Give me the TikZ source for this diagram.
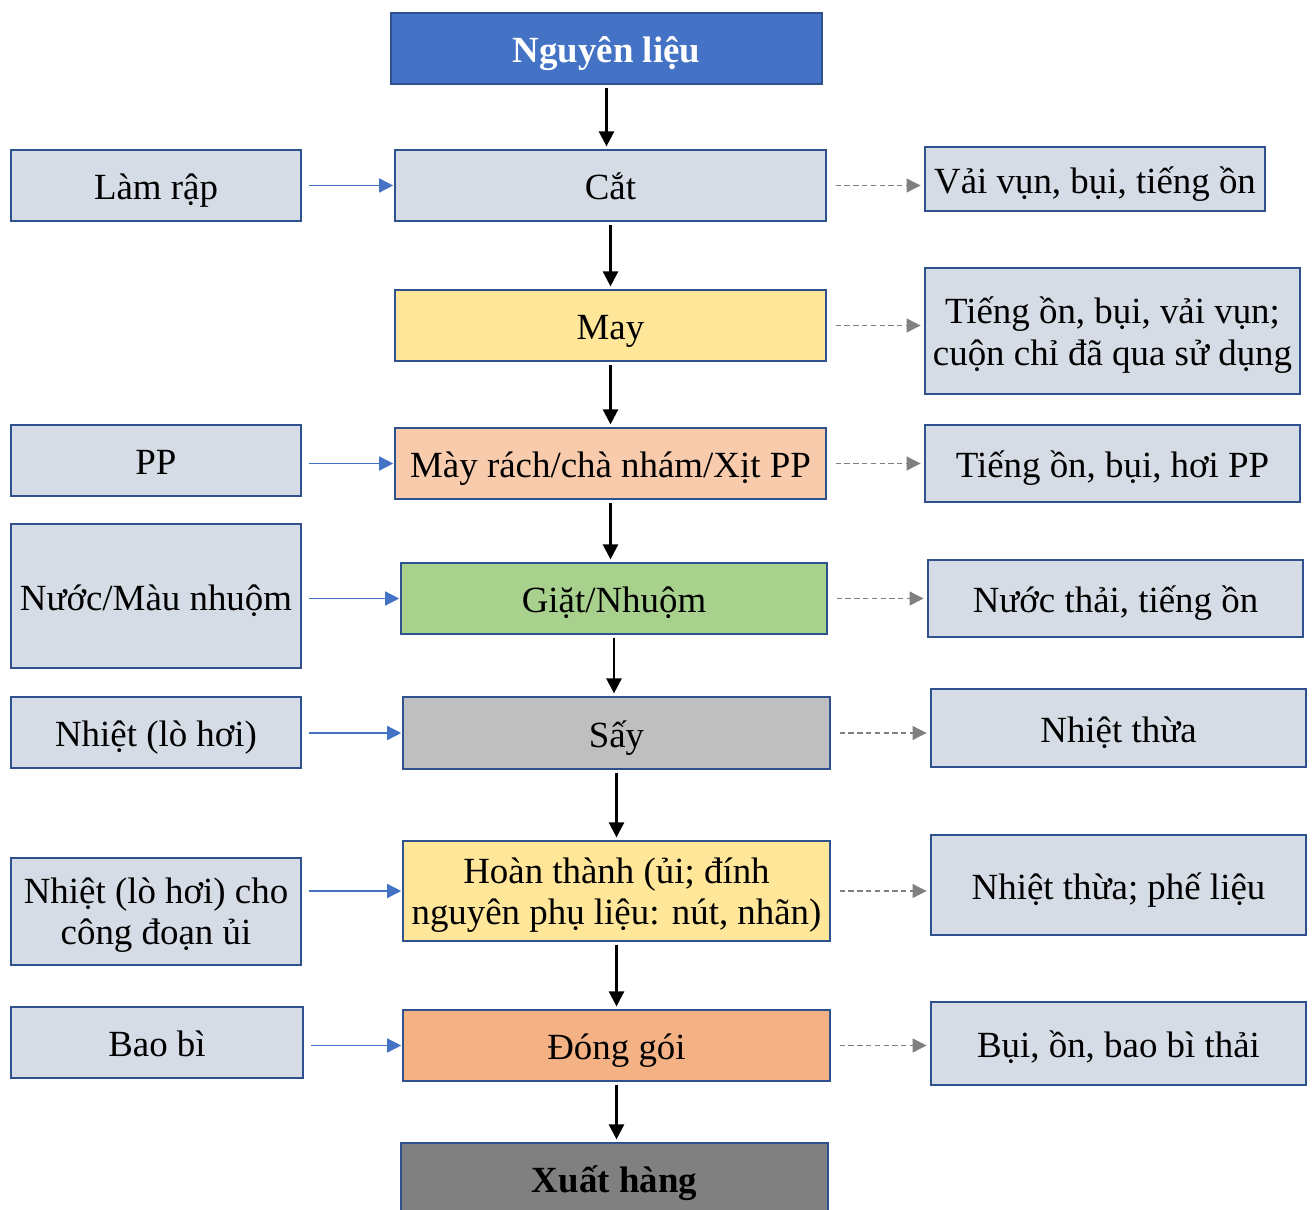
\documentclass[tikz,border=0pt]{standalone}
\usepackage{fontspec}
\setmainfont{Liberation Serif}
\usetikzlibrary{arrows.meta}
\definecolor{boxline}{HTML}{2F528F}
\definecolor{grayblue}{HTML}{D6DCE5}
\definecolor{arrowblue}{HTML}{4472C4}
\definecolor{sewyellow}{HTML}{FFE699}
\definecolor{sandpeach}{HTML}{F8CBAD}
\definecolor{dyegreen}{HTML}{A9D18E}
\definecolor{drygray}{HTML}{BFBFBF}
\definecolor{packorange}{HTML}{F4B183}
\definecolor{shipgray}{HTML}{808080}
\begin{document}
\begin{tikzpicture}[x=0.02cm, y=-0.02cm,
    box/.style={draw=boxline, line width=1.1pt, inner sep=2pt, align=center,
      font=\fontsize{21}{23.5}\selectfont, fill=grayblue},
    oneline/.style={text height=21pt, text depth=4.6pt},
    twoline/.style={text depth=-0.5pt},
    flow/.style={-{Triangle[length=8.5pt,width=8.5pt]}, line width=1.4pt, shorten <=2pt, shorten >=1.5pt},
    input/.style={-{Triangle[length=8pt,width=8pt]}, arrowblue, line width=0.85pt, shorten <=4pt, shorten >=0.5pt},
    waste/.style={-{Triangle[length=8pt,width=8pt]}, gray, line width=0.6pt, dash pattern=on 3pt off 2pt, shorten <=5pt, shorten >=2pt}]
  \useasboundingbox (0,0) rectangle (1313,1210);
  % main process
  \node[box, oneline, fill=arrowblue, text=white, font=\fontsize{21}{23.5}\selectfont\bfseries, minimum width=8.62cm, minimum height=1.42cm] (nl) at (606.5,48.5) {Nguyên liệu};
  \node[box, oneline, minimum width=8.62cm, minimum height=1.42cm] (cat) at (610.5,185.5) {Cắt};
  \node[box, oneline, fill=sewyellow, minimum width=8.62cm, minimum height=1.42cm] (may) at (610.5,325.5) {May};
  \node[box, oneline, fill=sandpeach, minimum width=8.62cm, minimum height=1.42cm] (mayrach) at (610.5,463.5) {Mày rách/chà nhám/Xịt PP};
  \node[box, oneline, fill=dyegreen, minimum width=8.52cm, minimum height=1.42cm] (giat) at (614,598.5) {Giặt/Nhuộm};
  \node[box, oneline, fill=drygray, minimum width=8.54cm, minimum height=1.44cm] (say) at (616.5,733) {Sấy};
  \node[box, twoline, fill=sewyellow, minimum width=8.54cm, minimum height=2cm] (hoan) at (616.5,891) {Hoàn thành (ủi; đính\\nguyên phụ liệu: nút, nhãn)};
  \node[box, oneline, fill=packorange, minimum width=8.54cm, minimum height=1.42cm] (dong) at (616.5,1045.5) {Đóng gói};
  \node[box, oneline, fill=shipgray, font=\fontsize{21}{23.5}\selectfont\bfseries, minimum width=8.54cm, minimum height=1.42cm] (xuat) at (614.5,1178.5) {Xuất hàng};
  % inputs
  \node[box, oneline, minimum width=5.8cm, minimum height=1.42cm] (lamrap) at (156,185.5) {Làm rập};
  \node[box, oneline, minimum width=5.8cm, minimum height=1.42cm] (pp) at (156,460.5) {PP};
  \node[box, oneline, minimum width=5.8cm, minimum height=2.88cm] (nuoc) at (156,596) {Nước/Màu nhuộm};
  \node[box, oneline, minimum width=5.8cm, minimum height=1.42cm] (nhiet) at (156,732.5) {Nhiệt (lò hơi)};
  \node[box, twoline, minimum width=5.8cm, minimum height=2.14cm] (nhietui) at (156,911.5) {Nhiệt (lò hơi) cho\\công đoạn ủi};
  \node[box, oneline, minimum width=5.84cm, minimum height=1.42cm] (baobi) at (157,1042.5) {Bao bì};
  % outputs
  \node[box, oneline, minimum width=6.8cm, minimum height=1.28cm] (vaivun) at (1095,179) {Vải vụn, bụi, tiếng ồn};
  \node[box, twoline, minimum width=7.5cm, minimum height=2.52cm] (tiengon) at (1112.5,331) {Tiếng ồn, bụi, vải vụn;\\cuộn chỉ đã qua sử dụng};
  \node[box, oneline, minimum width=7.5cm, minimum height=1.54cm] (hoipp) at (1112.5,463.5) {Tiếng ồn, bụi, hơi PP};
  \node[box, oneline, minimum width=7.5cm, minimum height=1.54cm] (nuocthai) at (1115.5,598.5) {Nước thải, tiếng ồn};
  \node[box, oneline, minimum width=7.5cm, minimum height=1.56cm] (nhietthua) at (1118.5,728) {Nhiệt thừa};
  \node[box, oneline, minimum width=7.5cm, minimum height=2cm] (phelieu) at (1118.5,885) {Nhiệt thừa; phế liệu};
  \node[box, oneline, minimum width=7.5cm, minimum height=1.66cm] (baobithai) at (1118.5,1043.5) {Bụi, ồn, bao bì thải};
  % arrows
  \foreach \a/\b in {nl/cat, cat/may, may/mayrach, mayrach/giat, giat/say, say/hoan, hoan/dong, dong/xuat}
    \draw[flow] (\a.south) -- (\a.south |- \b.north);
  \foreach \a/\b in {lamrap/cat, pp/mayrach, nuoc/giat, nhiet/say, nhietui/hoan, baobi/dong}
    \draw[input] (\a.east |- \b.west) -- (\b.west);
  \foreach \a/\b in {cat/vaivun, may/tiengon, mayrach/hoipp, giat/nuocthai, say/nhietthua, hoan/phelieu, dong/baobithai}
    \draw[waste] (\a.east) -- (\a.east -| \b.west);
\end{tikzpicture}
\end{document}
